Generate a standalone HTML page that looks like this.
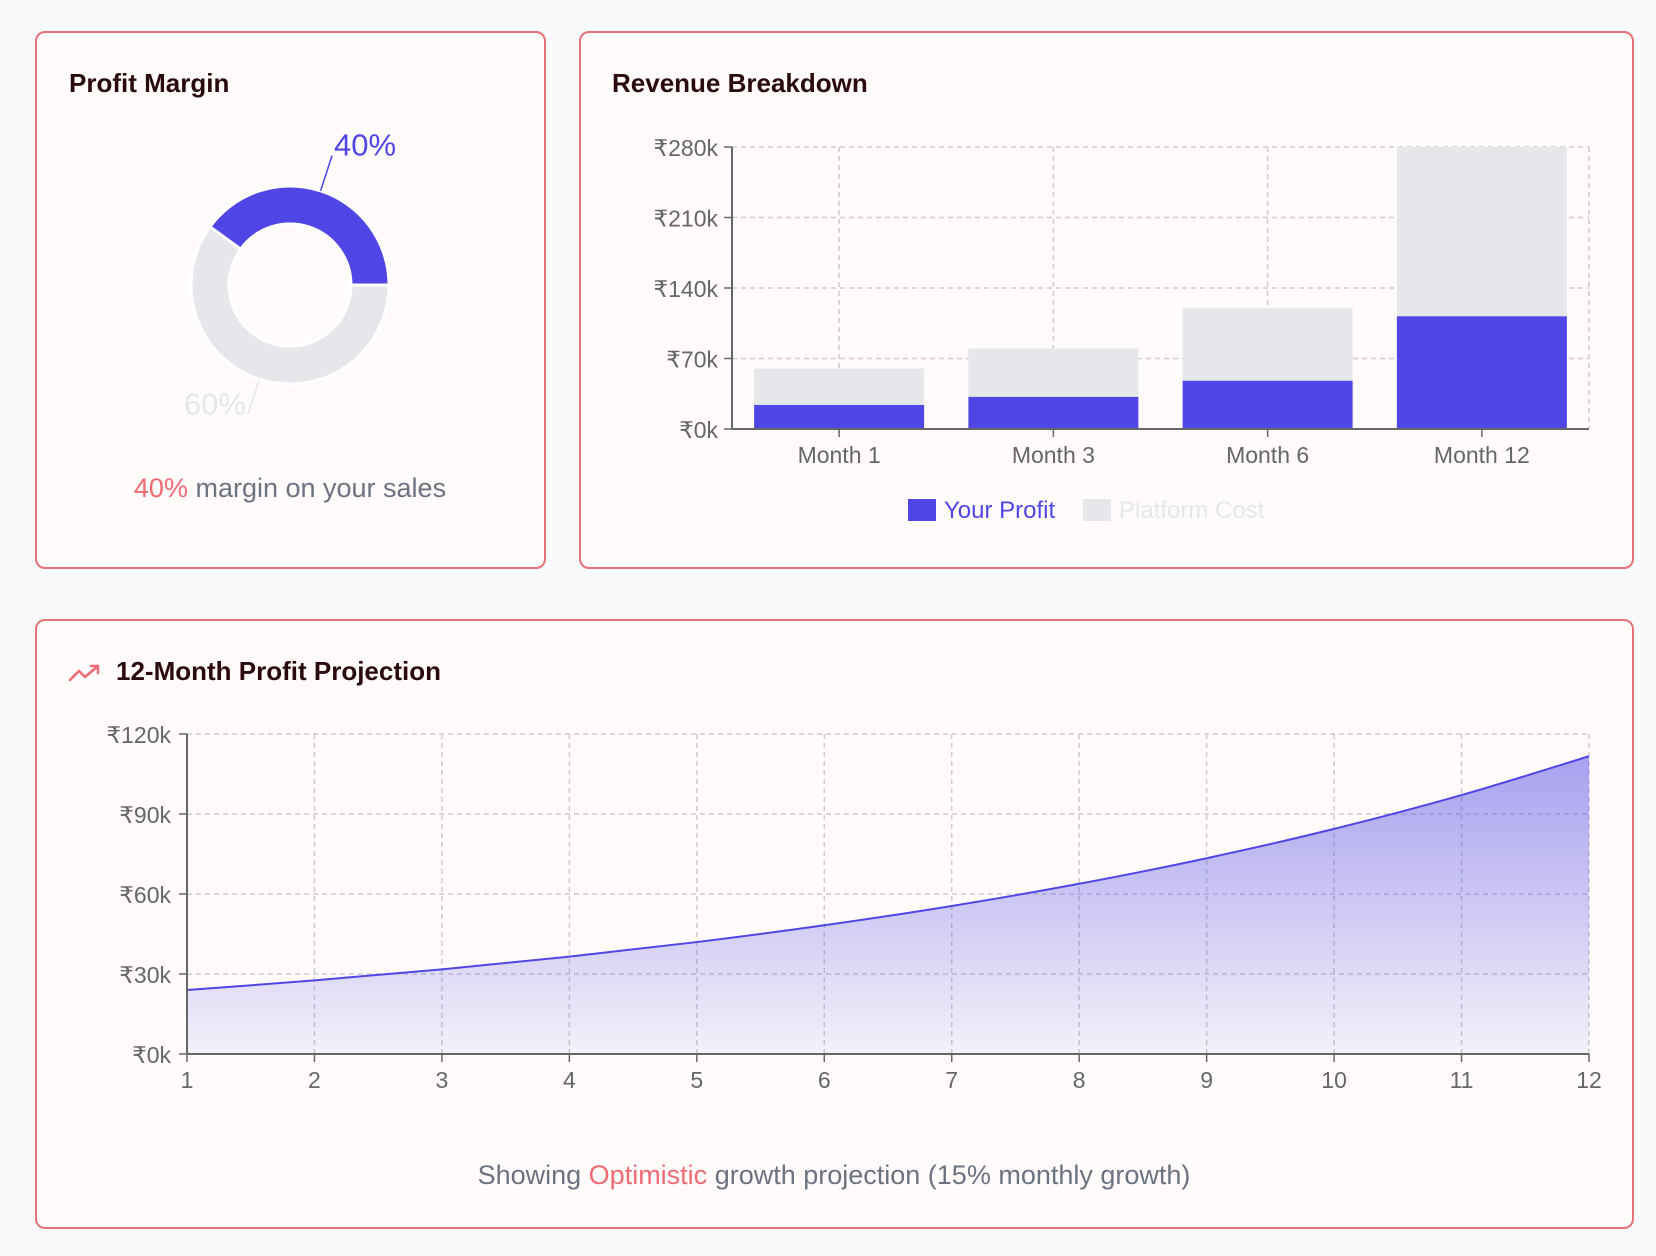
<!DOCTYPE html>
<html><head><meta charset="utf-8">
<style>
html,body{margin:0;padding:0;background:#f8f9fa;width:1656px;height:1256px;overflow:hidden;font-family:"Liberation Sans",sans-serif;}
.card{position:absolute;background:#fffbfa;border:2px solid #e57378;border-radius:10px;box-sizing:border-box;}
.title{position:absolute;font-weight:bold;font-size:26px;color:#2a0a0f;white-space:nowrap;}
svg{position:absolute;left:0;top:0;}
text{font-family:"Liberation Sans","DejaVu Sans",sans-serif;}
</style></head>
<body>
<div class="card" style="left:35px;top:31px;width:511px;height:538px;"></div>
<div class="card" style="left:579px;top:31px;width:1055px;height:538px;"></div>
<div class="card" style="left:35px;top:619px;width:1599px;height:610px;"></div>
<div class="title" style="left:69px;top:68px;">Profit Margin</div>
<div class="title" style="left:612px;top:68px;">Revenue Breakdown</div>
<div class="title" style="left:116px;top:656px;">12-Month Profit Projection</div>
<svg id="chart" width="1656" height="1256">
  <defs>
    <linearGradient id="areaGrad" x1="0" y1="0" x2="0" y2="1">
      <stop offset="0%" stop-color="#4f46e5" stop-opacity="0.5"/>
      <stop offset="100%" stop-color="#4f46e5" stop-opacity="0.06"/>
    </linearGradient>
    <clipPath id="donutClip"><rect x="40" y="134" width="500" height="300"/></clipPath>
  </defs>
  <g fill="none" stroke="#ee6b73" stroke-width="2.5" stroke-linecap="round" stroke-linejoin="round">
    <polyline points="70,680 79,671 85,677 98,666"/>
    <polyline points="91,666 98,666 98,673"/>
  </g>
  <g id="donut"></g>
  <text x="290" y="497" text-anchor="middle" font-size="27" fill="#6b7280"><tspan fill="#ee6b73">40%</tspan> margin on your sales</text>
  <g id="bars"></g>
  <g id="area"></g>
  <text x="834" y="1184" text-anchor="middle" font-size="27" fill="#6b7280">Showing <tspan fill="#ee6b73">Optimistic</tspan> growth projection (15% monthly growth)</text>
</svg>
<script>
const NS='http://www.w3.org/2000/svg';
// Donut data
const donutLabels=['40%','60%'];
const donutValues=[40,60];
// Bar data
const barCategories=['Month 1','Month 3','Month 6','Month 12'];
const profitValues=[24000,32000,48000,112000];
const costValues=[36000,48000,72000,168000];
const barTicks=[0,70000,140000,210000,280000];
const barTickLabels=['₹0k','₹70k','₹140k','₹210k','₹280k'];
// Area data
const months=[1,2,3,4,5,6,7,8,9,10,11,12];
const projectedProfit=[24000,27600,31740,36501,41976,48273,55514,63841,73417,84430,97094,111658];
const areaTicks=[0,30000,60000,90000,120000];
const areaTickLabels=['₹0k','₹30k','₹60k','₹90k','₹120k'];

function mk(tag,attrs,parent){const e=document.createElementNS(NS,tag);for(const k in attrs)e.setAttribute(k,attrs[k]);parent.appendChild(e);return e;}

// ---- Donut ----
(function(){
  const g=document.getElementById('donut');
  g.setAttribute('clip-path','url(#donutClip)');
  const cx=290,cy=285,ro=99,ri=61;
  const total=donutValues.reduce((a,b)=>a+b,0);
  const colors=['#4f46e5','#e5e7eb'];
  let a0=0;
  donutValues.forEach((v,i)=>{
    const a1=a0+v/total*360;
    const r=d=>d*Math.PI/180;
    const p=(rad,ang)=>[cx+rad*Math.cos(r(ang)),cy-rad*Math.sin(r(ang))];
    const large=(a1-a0)>180?1:0;
    const [x1,y1]=p(ro,a0),[x2,y2]=p(ro,a1),[x3,y3]=p(ri,a1),[x4,y4]=p(ri,a0);
    const path=mk('path',{d:`M${x1},${y1} A${ro},${ro} 0 ${large} 0 ${x2},${y2} L${x3},${y3} A${ri},${ri} 0 ${large} 1 ${x4},${y4} Z`,fill:colors[i],stroke:'#fff','stroke-width':3},g);
    
    
    const mid=(a0+a1)/2;
    const [lx1,ly1]=p(ro,mid),[lx2,ly2]=p(ro+37,mid);
    const ln=mk('line',{x1:lx1,y1:ly1,x2:lx2,y2:ly2,stroke:i===0?'#4f46e5':'#e5e7eb','stroke-width':1.5},g);
    
    
    const right=Math.cos(r(mid))>=0;
    const t=mk('text',{x:lx2+(right?2:-2),y:ly2+(right?0:0),'text-anchor':right?'start':'end','font-size':31,fill:colors[i]},g);
    t.textContent=donutLabels[i];
    
    
    a0=a1;
  });
})();

// ---- Bars ----
(function(){
  const g=document.getElementById('bars');
  const L=732,R=1589,T=147,B=429,maxV=280000;
  const y=v=>B-(v/maxV)*(B-T);
  const band=(R-L)/barCategories.length;
  const xc=i=>L+band*(i+0.5);
  const bw=170;
  barTicks.forEach((v,i)=>{
    if(i>0){const gl=mk('line',{x1:L,x2:R,y1:y(v),y2:y(v),stroke:'#ccc','stroke-dasharray':'5 4','stroke-width':1.5},g);
    }
    mk('line',{x1:L-8,x2:L,y1:y(v),y2:y(v),stroke:'#666','stroke-width':1.5},g);
    const t=mk('text',{x:L-14,y:y(v)+9,'text-anchor':'end','font-size':23,fill:'#666'},g);
    t.textContent=barTickLabels[i];
    
    
  });
  barCategories.forEach((c,i)=>{
    mk('line',{x1:xc(i),x2:xc(i),y1:T,y2:B,stroke:'#ccc','stroke-dasharray':'5 4','stroke-width':1.5},g);
  });
  mk('line',{x1:R,x2:R,y1:T,y2:B,stroke:'#ccc','stroke-dasharray':'5 4','stroke-width':1.5},g);
  barCategories.forEach((c,i)=>{
    const p=mk('rect',{x:xc(i)-bw/2,y:y(profitValues[i]),width:bw,height:B-y(profitValues[i]),fill:'#4f46e5'},g);
    
    
    const top=profitValues[i]+costValues[i];
    const cr=mk('rect',{x:xc(i)-bw/2,y:y(top),width:bw,height:y(profitValues[i])-y(top),fill:'#e5e7eb'},g);
    
    
    mk('line',{x1:xc(i),x2:xc(i),y1:B,y2:B+8,stroke:'#666','stroke-width':1.5},g);
    const t=mk('text',{x:xc(i),y:B+34,'text-anchor':'middle','font-size':23,fill:'#666'},g);
    t.textContent=c;
    
    
  });
  mk('line',{x1:L,x2:L,y1:T,y2:B,stroke:'#666','stroke-width':2},g);
  mk('line',{x1:L,x2:R,y1:B,y2:B,stroke:'#666','stroke-width':2},g);
  // legend
  const l1=mk('rect',{x:908,y:499,width:28,height:22,fill:'#4f46e5'},g);
  
  const t1=mk('text',{x:944,y:518,'font-size':24,fill:'#4f46e5'},g);t1.textContent='Your Profit';
  
  const l2=mk('rect',{x:1083,y:499,width:28,height:22,fill:'#e5e7eb'},g);
  
  const t2=mk('text',{x:1119,y:518,'font-size':24,fill:'#e5e7eb'},g);t2.textContent='Platform Cost';
  
})();

// ---- Area ----
(function(){
  const g=document.getElementById('area');
  const L=187,R=1589,T=734,B=1054,maxV=120000;
  const x=m=>L+(m-1)/(months.length-1)*(R-L);
  const y=v=>B-(v/maxV)*(B-T);
  areaTicks.forEach((v,i)=>{
    if(i>0){const gl=mk('line',{x1:L,x2:R,y1:y(v),y2:y(v),stroke:'#ccc','stroke-dasharray':'5 4','stroke-width':1.5},g);
    }
    mk('line',{x1:L-8,x2:L,y1:y(v),y2:y(v),stroke:'#666','stroke-width':1.5},g);
    const t=mk('text',{x:L-16,y:y(v)+9,'text-anchor':'end','font-size':23,fill:'#666'},g);
    t.textContent=areaTickLabels[i];
    
    
  });
  months.forEach((m,i)=>{
    if(i>0) mk('line',{x1:x(m),x2:x(m),y1:T,y2:B,stroke:'#ccc','stroke-dasharray':'5 4','stroke-width':1.5},g);
  });
  const pts=months.map((m,i)=>[x(m),y(projectedProfit[i])]);
  let d=`M${pts[0][0]},${pts[0][1]}`;
  for(let i=0;i<pts.length-1;i++){
    const p0=pts[Math.max(0,i-1)],p1=pts[i],p2=pts[i+1],p3=pts[Math.min(pts.length-1,i+2)];
    d+=` C${p1[0]+(p2[0]-p0[0])/6},${p1[1]+(p2[1]-p0[1])/6} ${p2[0]-(p3[0]-p1[0])/6},${p2[1]-(p3[1]-p1[1])/6} ${p2[0]},${p2[1]}`;
  }
  const fill=mk('path',{d:d+` L${x(12)},${B} L${x(1)},${B} Z`,fill:'url(#areaGrad)'},g);
  
  
  const line=mk('path',{d:d,fill:'none',stroke:'#4f46e5','stroke-width':2},g);
  
  
  months.forEach((m,i)=>{
    mk('line',{x1:x(m),x2:x(m),y1:B,y2:B+8,stroke:'#666','stroke-width':1.5},g);
    const t=mk('text',{x:x(m),y:B+34,'text-anchor':'middle','font-size':23,fill:'#666'},g);
    t.textContent=String(m);
    
    
  });
  mk('line',{x1:L,x2:L,y1:T,y2:B,stroke:'#666','stroke-width':2},g);
  mk('line',{x1:L,x2:R,y1:B,y2:B,stroke:'#666','stroke-width':2},g);
})();
</script>
</body></html>
